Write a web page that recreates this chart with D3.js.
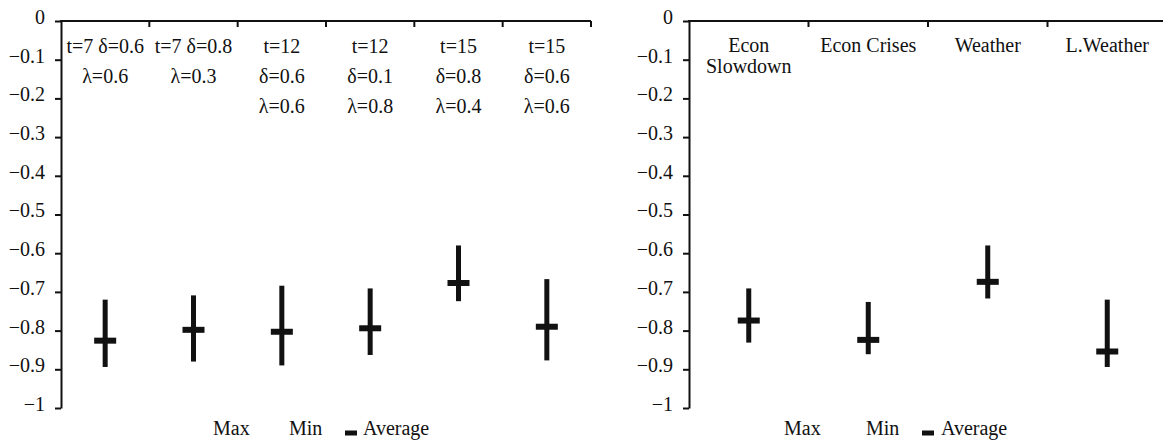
<!DOCTYPE html>
<html>
<head>
<meta charset="utf-8">
<script src="https://cdn.jsdelivr.net/npm/d3@7"></script>
<style>
  html, body { margin: 0; padding: 0; background: #fff; }
  svg text { font-family: "Liberation Serif", "Times New Roman", serif; fill: #111; }
</style>
</head>
<body>
<svg id="chart" width="1163" height="441"></svg>
<script>
// ---------- data ----------
const leftCategories = [
  ["t=7 δ=0.6", "λ=0.6"],
  ["t=7 δ=0.8", "λ=0.3"],
  ["t=12", "δ=0.6", "λ=0.6"],
  ["t=12", "δ=0.1", "λ=0.8"],
  ["t=15", "δ=0.8", "λ=0.4"],
  ["t=15", "δ=0.6", "λ=0.6"]
];
const leftMax = [-0.720, -0.709, -0.684, -0.691, -0.580, -0.667];
const leftMin = [-0.894, -0.880, -0.890, -0.863, -0.724, -0.877];
const leftAvg = [-0.826, -0.798, -0.803, -0.794, -0.677, -0.790];

const rightCategories = [
  ["Econ", "Slowdown"],
  ["Econ Crises"],
  ["Weather"],
  ["L.Weather"]
];
const rightMax = [-0.691, -0.726, -0.580, -0.720];
const rightMin = [-0.831, -0.861, -0.717, -0.894];
const rightAvg = [-0.774, -0.824, -0.674, -0.854];

const yTicks = [0, -0.1, -0.2, -0.3, -0.4, -0.5, -0.6, -0.7, -0.8, -0.9, -1];
const legendLabels = ["Max", "Min", "Average"];

// ---------- drawing ----------
const svg = d3.select("#chart");
const ink = "#111";
const fmt = d3.format("~g");

function panel(opts) {
  const { cats, maxs, mins, avgs, x0, x1, firstLine, lineGap, legendX, legendOffsets } = opts;
  const keys = cats.map((c, i) => i);
  const y = d3.scaleLinear().domain([-1, 0]).range([408, 21]);
  const x = d3.scaleBand().domain(keys).range([x0, x1]);
  const g = svg.append("g");

  // y axis
  const yAxis = g.append("g")
    .attr("transform", `translate(${x0},0)`)
    .call(d3.axisLeft(y).tickValues(yTicks).tickSize(6).tickSizeOuter(0)
      .tickPadding(10).tickFormat(fmt));
  yAxis.select(".domain").attr("stroke", ink).attr("stroke-width", 2);
  yAxis.selectAll(".tick line").attr("stroke", ink).attr("stroke-width", 2);
  yAxis.selectAll(".tick text")
    .attr("font-size", 20)
    .attr("font-family", "Liberation Serif")
    .attr("fill", ink)
    .attr("dy", "0.12em");

  // top category axis at value 0
  const topY = y(0);
  g.append("line")
    .attr("x1", x0 - 1).attr("x2", x1)
    .attr("y1", topY).attr("y2", topY)
    .attr("stroke", ink).attr("stroke-width", 2);
  const edges = keys.map(k => x(k)).concat([x1]).slice(1);
  g.selectAll("line.ctick").data(edges).join("line")
    .attr("class", "ctick")
    .attr("x1", d => d).attr("x2", d => d)
    .attr("y1", topY).attr("y2", topY + 6)
    .attr("stroke", ink).attr("stroke-width", 2);

  // category labels
  const lab = g.selectAll("text.cat").data(keys).join("text")
    .attr("class", "cat")
    .attr("text-anchor", "middle")
    .attr("font-size", 20);
  lab.each(function (k) {
    d3.select(this).selectAll("tspan").data(cats[k]).join("tspan")
      .attr("x", x(k) + x.bandwidth() / 2)
      .attr("y", (d, i) => firstLine + i * lineGap)
      .text(d => d);
  });

  // min-max bars
  const cx = k => x(k) + x.bandwidth() / 2;
  g.selectAll("rect.range").data(keys).join("rect")
    .attr("class", "range")
    .attr("x", k => cx(k) - 2.5)
    .attr("width", 5)
    .attr("y", k => y(maxs[k]))
    .attr("height", k => y(mins[k]) - y(maxs[k]))
    .attr("fill", ink);
  // average markers
  g.selectAll("rect.avg").data(keys).join("rect")
    .attr("class", "avg")
    .attr("x", k => cx(k) - 11)
    .attr("width", 22)
    .attr("y", k => y(avgs[k]) - 3)
    .attr("height", 6)
    .attr("fill", ink);

  // legend
  const [oMin, oMark, oAvg] = legendOffsets;
  const lg = g.append("g").attr("transform", `translate(${legendX},435)`);
  lg.append("text").attr("x", 0).attr("font-size", 20).text(legendLabels[0]);
  lg.append("text").attr("x", oMin).attr("font-size", 20).text(legendLabels[1]);
  lg.append("rect").attr("x", oMark).attr("y", -4.5).attr("width", 12).attr("height", 5).attr("fill", ink);
  lg.append("text").attr("x", oAvg).attr("font-size", 20).text(legendLabels[2]);
}

panel({ cats: leftCategories, maxs: leftMax, mins: leftMin, avgs: leftAvg,
        x0: 61, x1: 591, firstLine: 53, lineGap: 30,
        legendX: 213, legendOffsets: [76, 132, 150] });
panel({ cats: rightCategories, maxs: rightMax, mins: rightMin, avgs: rightAvg,
        x0: 689, x1: 1167, firstLine: 52, lineGap: 21,
        legendX: 784, legendOffsets: [82, 138, 157] });
</script>
</body>
</html>
